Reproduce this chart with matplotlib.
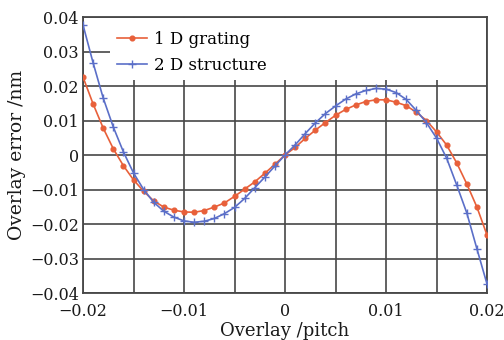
import matplotlib
matplotlib.use("Agg")
import matplotlib.pyplot as plt
from matplotlib.patches import Rectangle

x_vals = [-0.020, -0.019, -0.018, -0.017, -0.016, -0.015, -0.014, -0.013, -0.012, -0.011,
          -0.010, -0.009, -0.008, -0.007, -0.006, -0.005, -0.004, -0.003, -0.002, -0.001,
          0.000, 0.001, 0.002, 0.003, 0.004, 0.005, 0.006, 0.007, 0.008, 0.009,
          0.010, 0.011, 0.012, 0.013, 0.014, 0.015, 0.016, 0.017, 0.018, 0.019, 0.020]

grating_1d = [0.0226, 0.0148, 0.0078, 0.0018, -0.0031, -0.0072, -0.0105, -0.0133, -0.0151, -0.0160,
              -0.0165, -0.0166, -0.0161, -0.0151, -0.0139, -0.0120, -0.0099, -0.0078, -0.0053, -0.0027,
              0.0000, 0.0022, 0.0048, 0.0072, 0.0094, 0.0115, 0.0132, 0.0145, 0.0155, 0.0160,
              0.0160, 0.0153, 0.0143, 0.0124, 0.0100, 0.0067, 0.0029, -0.0023, -0.0084, -0.0151, -0.0232]

structure_2d = [0.0377, 0.0267, 0.0165, 0.0081, 0.0009, -0.0052, -0.0100, -0.0137, -0.0163, -0.0180,
                -0.0191, -0.0195, -0.0192, -0.0184, -0.0170, -0.0152, -0.0126, -0.0095, -0.0064, -0.0032,
                0.0000, 0.0029, 0.0062, 0.0093, 0.0120, 0.0142, 0.0162, 0.0177, 0.0187, 0.0193,
                0.0191, 0.0181, 0.0161, 0.0129, 0.0094, 0.0049, -0.0009, -0.0087, -0.0168, -0.0272, -0.0374]

x_ticks = [-0.02, -0.01, 0, 0.01, 0.02]
x_tick_labels = ["\u22120.02", "\u22120.01", "0", "0.01", "0.02"]
x_grid = [-0.02, -0.015, -0.01, -0.005, 0, 0.005, 0.01, 0.015, 0.02]
y_ticks = [-0.04, -0.03, -0.02, -0.01, 0, 0.01, 0.02, 0.03, 0.04]
y_tick_labels = ["\u22120.04", "\u22120.03", "\u22120.02", "\u22120.01", "0", "0.01", "0.02", "0.03", "0.04"]

plt.rcParams['font.family'] = ['DejaVu Serif']

fig = plt.figure(figsize=(5.04, 3.40), dpi=100)
ax = fig.add_axes([0.1647, 0.1382, 0.8016, 0.8118])

grid_color = "#474747"
ax.set_xlim(-0.02, 0.02)
ax.set_ylim(-0.04, 0.04)
ax.set_xticks(x_grid)
lbls = []
for t in x_grid:
    found = ""
    for tv, tl in zip(x_ticks, x_tick_labels):
        if abs(tv - t) < 1e-9:
            found = tl
    lbls.append(found)
ax.set_xticklabels(lbls)
ax.set_yticks(y_ticks)
ax.set_yticklabels(y_tick_labels)
ax.grid(True, color=grid_color, linewidth=1.2, zorder=0.5)
ax.set_axisbelow(True)
ax.tick_params(axis='both', length=0, labelsize=11.5, colors="#1a1a1a")
ax.tick_params(axis='x', pad=7.5)
ax.tick_params(axis='y', pad=3)

for s in ax.spines.values():
    s.set_color(grid_color)
    s.set_linewidth(1.3)

ax.add_patch(Rectangle((0.068, 0.772), 0.93, 0.226, transform=ax.transAxes,
                       facecolor="white", edgecolor="none", zorder=1))

orange = "#E8603A"
blue = "#5B6FC8"
ax.plot(x_vals, grating_1d, color=orange, marker='o', markersize=3.4, linewidth=1.2,
        label="1 D grating", zorder=3)
ax.plot(x_vals, structure_2d, color=blue, marker='+', markersize=6, markeredgewidth=1.0,
        linewidth=1.2, label="2 D structure", zorder=3)

leg = ax.legend(loc='upper left', bbox_to_anchor=(0.06, 0.985), frameon=False,
                fontsize=12, handlelength=1.8, handletextpad=0.4, labelspacing=0.55,
                borderaxespad=0.2)

ax.set_xlabel("Overlay /pitch", fontsize=13, labelpad=1, color="#1a1a1a")
ax.set_ylabel("Overlay error /nm", fontsize=13.5, labelpad=3, color="#1a1a1a")

fig.savefig("out.png", dpi=100)
